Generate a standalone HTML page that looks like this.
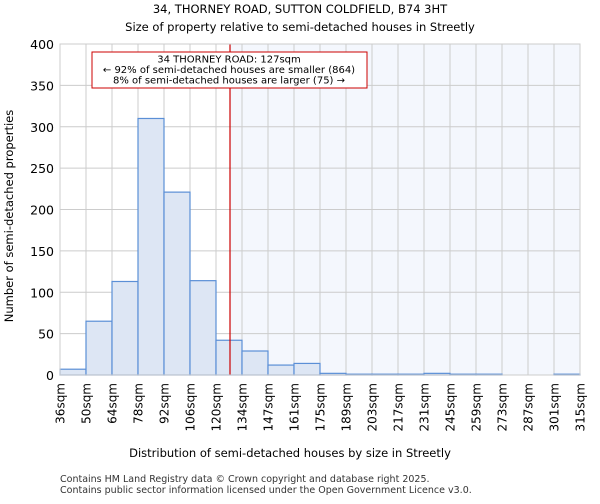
<!DOCTYPE html>
<html><head><meta charset="utf-8"><style>
body{margin:0;background:#fff;font-family:"DejaVu Sans","Liberation Sans",sans-serif}
</style></head><body>
<svg width="600" height="500" xmlns="http://www.w3.org/2000/svg" font-family="DejaVu Sans, Liberation Sans, sans-serif">
<text x="300" y="13" font-size="11.5" text-anchor="middle">34, THORNEY ROAD, SUTTON COLDFIELD, B74 3HT</text>
<text x="300" y="31" font-size="11.5" text-anchor="middle">Size of property relative to semi-detached houses in Streetly</text>
<g id="plot"></g>
<text x="290" y="457" font-size="11.5" text-anchor="middle">Distribution of semi-detached houses by size in Streetly</text>
<text transform="translate(13,216) rotate(-90)" font-size="11.5" text-anchor="middle">Number of semi-detached properties</text>
<text x="60" y="482" font-size="9.5" fill="#333">Contains HM Land Registry data © Crown copyright and database right 2025.</text>
<text x="60" y="493" font-size="9.5" fill="#333">Contains public sector information licensed under the Open Government Licence v3.0.</text>
</svg>
<script>
const categories=["36sqm","50sqm","64sqm","78sqm","92sqm","106sqm","120sqm","134sqm","147sqm","161sqm","175sqm","189sqm","203sqm","217sqm","231sqm","245sqm","259sqm","273sqm","287sqm","301sqm","315sqm"];
const binStarts=[36,50,64,78,92,106,120,134,147,161,175,189,203,217,231,245,259,273,287,301,315];
const counts=[7,65,113,310,221,114,42,29,12,14,2,1,1,1,2,1,1,0,0,1];
const yTicks=[0,50,100,150,200,250,300,350,400];
const propertySize=127;
const NS="http://www.w3.org/2000/svg";
const g=document.getElementById('plot');
const X0=60,X1=580,Y0=375,Y1=44,bw=(X1-X0)/counts.length;
const yS=v=>Y0-(v/400)*(Y0-Y1);
const xIdx=i=>X0+i*bw;
function xVal(v){for(let i=0;i<binStarts.length-1;i++){if(v<=binStarts[i+1])return xIdx(i)+(v-binStarts[i])/(binStarts[i+1]-binStarts[i])*bw;}return X1;}
function mk(t,a){const e=document.createElementNS(NS,t);for(const k in a)e.setAttribute(k,a[k]);g.appendChild(e);return e;}
const rx=xVal(propertySize)+1;
let e=mk('rect',{x:rx,y:Y1,width:X1-rx,height:Y0-Y1,fill:'#f4f7fd'});


yTicks.forEach(t=>{
 let l=mk('line',{x1:X0,x2:X1,y1:yS(t),y2:yS(t),stroke:'#ccc','stroke-width':1});
 
 
 let tx=mk('text',{x:X0-6,y:yS(t)+5,'font-size':12.5,'text-anchor':'end'});tx.textContent=t;
 
 
});
categories.forEach((c,i)=>{
 const x=xIdx(i);
 let l=mk('line',{x1:x,x2:x,y1:Y1,y2:Y0,stroke:'#ccc','stroke-width':1});
 
 
 let tx=mk('text',{transform:`translate(${x+4.5},${Y0+8}) rotate(-90)`,'font-size':12,'text-anchor':'end'});tx.textContent=c;
 
 
});
counts.forEach((v,i)=>{
 const x=xIdx(i);
 let r=mk('rect',{x:x,y:yS(v),width:bw,height:Y0-yS(v),fill:'#dde6f4',stroke:'#5b8fd6','stroke-width':1.2});
 
 
});
let ln=mk('line',{x1:rx,x2:rx,y1:Y1,y2:Y0,stroke:'#cc0000','stroke-width':1.2});


let ax=mk('rect',{x:X0,y:Y1,width:X1-X0,height:Y0-Y1,fill:'none',stroke:'#ccc'});


let box=mk('rect',{x:92,y:52,width:275,height:36,fill:'#fff',stroke:'#cc0000','stroke-width':1});


["34 THORNEY ROAD: 127sqm","← 92% of semi-detached houses are smaller (864)","8% of semi-detached houses are larger (75) →"].forEach((s,i)=>{
 let t=mk('text',{x:229,y:62.5+i*10.5,'font-size':10,'text-anchor':'middle'});t.textContent=s;
 
 
});
</script>
</body></html>
